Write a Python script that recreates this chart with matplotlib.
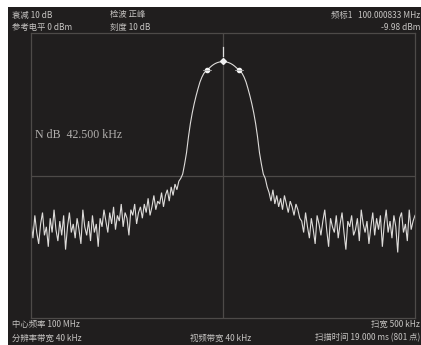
import numpy as np
import matplotlib
matplotlib.use("Agg")
import matplotlib.pyplot as plt

plt.rcParams['font.family'] = ['Noto Sans CJK SC', 'DejaVu Sans']

# Sweep: 500 kHz span around 100 MHz, one point every 2.5 kHz (offset in kHz)
span_khz = 500.0
step_khz = 2.5
freq_offset_khz = np.arange(-250.0, 250.0 + step_khz / 2, step_khz)

# Trace amplitude in dBm
noise_left = [
    -66, -72, -64, -70, -74, -67, -63, -71, -68, -75, -65, -70, -62, -69, -73, -66, -71, -64, -76, -68,
    -63, -70, -67, -72, -65, -69, -74, -62, -68, -71, -66, -73, -64, -70, -67, -75, -65,
    -68, -62, -66, -70, -63, -67, -61, -69, -64, -66, -60, -68, -63, -65, -71, -62, -64, -60, -67, -63,
    -61, -65, -60, -63, -58, -64, -61, -57, -62, -59, -60, -56, -61, -57, -55, -59, -54, -57, -53, -55,
]
carrier = [
    -52, -51, -49.5, -46, -42, -36.5, -31.8, -28, -24.8, -22, -19.5, -17.2, -15.5, -14.2, -13.4, -12.8,
    -12.2, -11.6, -11.1, -10.7, -10.4, -10.2, -10.05, -9.98, -10.05, -10.2, -10.4, -10.7, -11.1, -11.6,
    -12.2, -12.8, -13.4, -14.2, -15.5, -17.2, -19.5, -22, -24.8, -28, -31.8, -36.5, -42, -46, -49.5,
    -51, -54,
]
noise_right = [
    -56, -59, -55, -60, -57, -61, -58, -62, -57, -60, -63, -59, -61, -64, -60, -62, -65,
    -66, -70, -63, -68, -72, -65, -69, -74, -64, -67, -71, -66, -62, -69, -75, -65, -68, -70, -64, -72,
    -67, -63, -70, -76, -66, -68, -64, -71, -69, -65, -73, -62, -67, -70, -66, -74, -68, -63, -71, -65,
    -69, -64, -75, -67, -62, -70, -66, -72, -64, -68, -77, -65, -63, -70, -67, -73, -62, -69, -66, -64,
]
trace_dbm = np.array(noise_left + carrier + noise_right, dtype=float)

ref_level_dbm = 0.0
scale_db_div = 10.0
display_line_dbm = -50.0
peak_marker_khz = 0.0
peak_marker_dbm = -9.98
ndb_bandwidth_khz = 42.5
ndb_level_dbm = -13.1

W, H = 421, 345
fig = plt.figure(figsize=(W / 100, H / 100), dpi=100, facecolor='white')

# Instrument screen
screen = fig.add_axes([8 / W, 0, 1 - 8 / W, 1 - 7 / H])
screen.set_facecolor('#201e1e')
screen.set_xticks([])
screen.set_yticks([])
for s in screen.spines.values():
    s.set_visible(False)

# Graticule area
ax = fig.add_axes([31 / W, 1 - 318 / H, 384 / W, 285 / H])
ax.set_facecolor('none')
ax.set_xlim(-span_khz / 2, span_khz / 2)
ax.set_ylim(ref_level_dbm - 10 * scale_db_div, ref_level_dbm)
ax.set_xticks([])
ax.set_yticks([])
grid_col = '#4d4a48'
for s in ax.spines.values():
    s.set_color(grid_col)
    s.set_linewidth(0.9)
ax.axhline(display_line_dbm, color=grid_col, lw=0.9)
ax.axvline(0, color=grid_col, lw=0.9)

ax.plot(freq_offset_khz, trace_dbm, color='#dedcda', lw=0.8, solid_joinstyle='miter')

# Markers
ax.plot([peak_marker_khz], [peak_marker_dbm], marker='D', ms=3, color='#f0f0f0', mec='#f0f0f0')
ax.plot([peak_marker_khz, peak_marker_khz], [peak_marker_dbm + 2.0, peak_marker_dbm + 5.0],
        color='#e0e0e0', lw=0.9)
for fx in (-ndb_bandwidth_khz / 2, ndb_bandwidth_khz / 2):
    ax.plot([fx], [ndb_level_dbm], marker='o', ms=3, color='#f4f4f4')
    ax.plot([fx - 5, fx + 5], [ndb_level_dbm, ndb_level_dbm], color='#aaaaaa', lw=0.6)

txt = dict(color='#c6c4c2', fontsize=6.0)


def put(x, y, s, ha='left', **kw):
    d = dict(txt)
    d.update(kw)
    fig.text(x / W, 1 - y / H, s, ha=ha, va='center', **d)


put(12, 15, '衰减 10 dB')
put(12, 27, '参考电平 0 dBm')
put(110, 15, '检波 正峰')
put(110, 27, '刻度 10 dB')
put(420, 15, '频标1   100.000833 MHz', ha='right')
put(420, 27, '-9.98 dBm', ha='right')
put(35, 135, 'N dB  42.500 kHz', fontsize=8.6, color='#b2b0ae', family=['Liberation Serif', 'DejaVu Serif'])
put(12, 324, '中心频率 100 MHz')
put(12, 338, '分辨率带宽 40 kHz')
put(420, 324, '扫宽 500 kHz', ha='right')
put(190, 338, '视频带宽 40 kHz')
put(420, 338, '扫描时间 19.000 ms (801 点)', ha='right')

fig.savefig('out.png', dpi=100, facecolor='white')
